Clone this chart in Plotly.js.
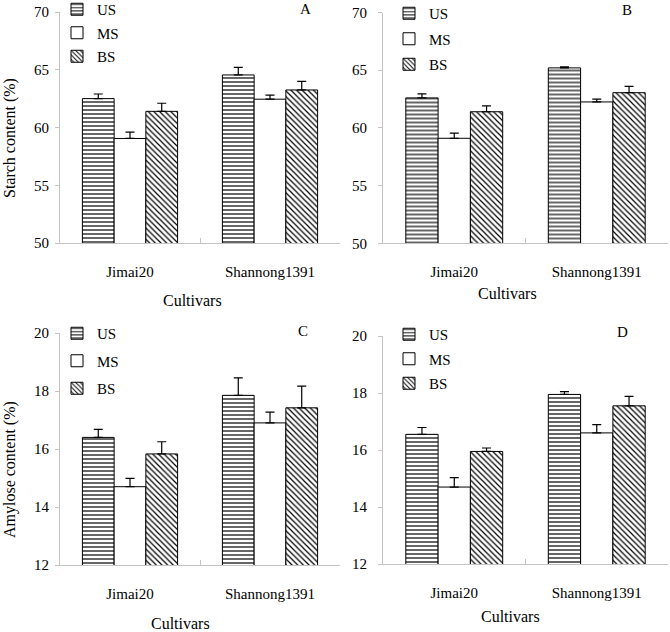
<!DOCTYPE html>
<html><head><meta charset="utf-8">
<script src="https://cdn.plot.ly/plotly-3.0.1.min.js"></script>
<style>body{margin:0;background:#fff}#chart{width:670px;height:632px}</style>
</head><body><div id="chart"></div>
<script>
const cultivars = ['Jimai20', 'Shannong1391'];
const seriesNames = ['US', 'MS', 'BS'];
const panelLetters = ['A', 'B', 'C', 'D'];

// Panel A: starch content (%)
const starchA_US = [62.5, 64.55];
const starchA_MS = [59.05, 62.45];
const starchA_BS = [61.4, 63.25];
const starchA_errUS = [0.4, 0.65];
const starchA_errMS = [0.55, 0.35];
const starchA_errBS = [0.7, 0.75];
// Panel B: starch content (%)
const starchB_US = [62.6, 65.2];
const starchB_MS = [59.1, 62.25];
const starchB_BS = [61.4, 63.05];
const starchB_errUS = [0.35, 0.1];
const starchB_errMS = [0.45, 0.25];
const starchB_errBS = [0.5, 0.55];
// Panel C: amylose content (%)
const amyloseC_US = [16.4, 17.85];
const amyloseC_MS = [14.7, 16.9];
const amyloseC_BS = [15.83, 17.42];
const amyloseC_errUS = [0.28, 0.6];
const amyloseC_errMS = [0.29, 0.37];
const amyloseC_errBS = [0.42, 0.75];
// Panel D: amylose content (%)
const amyloseD_US = [16.55, 17.95];
const amyloseD_MS = [14.7, 16.6];
const amyloseD_BS = [15.95, 17.55];
const amyloseD_errUS = [0.24, 0.1];
const amyloseD_errMS = [0.33, 0.29];
const amyloseD_errBS = [0.12, 0.33];

const W = 670, H = 632;
const FONT = 'Liberation Serif';
const AXC = '#c4c4c4';

const patterns = {
  US: {shape: '-', fgcolor: '#000', bgcolor: '#fff', size: 4, solidity: 0.3},
  MS: {shape: '', bgcolor: '#fff'},
  BS: {shape: '\\', fgcolor: '#000', bgcolor: '#fff', size: 4, solidity: 0.3}
};

const panels = [
  {vals: [starchA_US, starchA_MS, starchA_BS], errs: [starchA_errUS, starchA_errMS, starchA_errBS]},
  {vals: [starchB_US, starchB_MS, starchB_BS], errs: [starchB_errUS, starchB_errMS, starchB_errBS]},
  {vals: [amyloseC_US, amyloseC_MS, amyloseC_BS], errs: [amyloseC_errUS, amyloseC_errMS, amyloseC_errBS]},
  {vals: [amyloseD_US, amyloseD_MS, amyloseD_BS], errs: [amyloseD_errUS, amyloseD_errMS, amyloseD_errBS]}
];

// pixel boxes of each plot area [left, right, top, bottom]
const boxes = [[60, 340, 12, 243], [383, 668, 12.5, 243.3], [60, 340, 333, 565], [383, 668, 336, 564]];
const ranges = [[50, 70], [50, 70], [12, 20], [12, 20]];
const dticks = [5, 5, 2, 2];
// legend placement per panel: [left px, top px, group gap px]
const legendBoxes = [[57, -7, 1], [389, -3, 3], [57, 317, 5], [389, 318, 2]];

const traces = [];
const layout = {
  width: W, height: H,
  margin: {l: 0, r: 0, t: 0, b: 0, autoexpand: false},
  paper_bgcolor: '#fff', plot_bgcolor: '#fff',
  font: {family: FONT, size: 15, color: '#000'},
  barmode: 'group', bargap: 0.32, bargroupgap: 0,
  showlegend: true,
  annotations: [], shapes: []
};

panels.forEach((p, i) => {
  const n = i + 1;
  const sfx = n === 1 ? '' : String(n);
  const legName = 'legend' + sfx;
  seriesNames.forEach((s, k) => {
    traces.push({
      type: 'bar', x: cultivars, y: p.vals[k], name: s,
      xaxis: 'x' + sfx, yaxis: 'y' + sfx,
      legend: legName, legendgroup: 'g' + n + s,
      marker: {color: '#fff', pattern: patterns[s], line: {color: '#000', width: 1}},
      error_y: {type: 'data', array: p.errs[k], symmetric: false, arrayminus: [0, 0],
                color: '#000', thickness: 1.2, width: 4.5},
      hoverinfo: 'skip'
    });
  });
  const b = boxes[i];
  layout['xaxis' + sfx] = {
    domain: [b[0] / W, b[1] / W], anchor: 'y' + sfx,
    showline: true, linecolor: AXC, linewidth: 1,
    ticks: 'inside', tickson: 'boundaries', ticklen: 5, tickcolor: AXC,
    showgrid: false, zeroline: false, fixedrange: true, automargin: false,
    tickfont: {family: FONT, size: 15, color: '#000'},
    ticklabelstandoff: 15
  };
  layout['yaxis' + sfx] = {
    domain: [1 - b[3] / H, 1 - b[2] / H], anchor: 'x' + sfx,
    range: ranges[i], dtick: dticks[i], tick0: ranges[i][0],
    showline: true, linecolor: AXC, linewidth: 1,
    ticks: 'outside', ticklen: 4, tickcolor: AXC,
    showgrid: false, zeroline: false, fixedrange: true, automargin: false,
    tickfont: {family: FONT, size: 15, color: '#000'},
    ticklabelstandoff: i % 2 === 1 ? 8 : 3
  };
  const lb = legendBoxes[i];
  layout[legName] = {
    x: lb[0] / W, y: 1 - lb[1] / H, xanchor: 'left', yanchor: 'top',
    bgcolor: 'rgba(0,0,0,0)', borderwidth: 0,
    font: {family: FONT, size: 15, color: '#000'},
    traceorder: 'grouped', tracegroupgap: lb[2], itemclick: false, itemdoubleclick: false
  };
});

// panel letters
const letterPos = [[305, 9], [627, 10], [303, 331], [622, 332]];
letterPos.forEach((pt, i) => {
  layout.annotations.push({text: panelLetters[i], x: pt[0] / W, y: 1 - pt[1] / H,
    xref: 'paper', yref: 'paper', xanchor: 'center', yanchor: 'middle', showarrow: false,
    font: {family: FONT, size: 15}});
});
// x-axis titles
const cultPos = [[193, 300], [508, 293], [180, 623], [510, 616]];
cultPos.forEach(pt => {
  layout.annotations.push({text: 'Cultivars', x: pt[0] / W, y: 1 - pt[1] / H,
    xref: 'paper', yref: 'paper', xanchor: 'center', yanchor: 'middle', showarrow: false,
    font: {family: FONT, size: 16}});
});
// y-axis titles
layout.annotations.push({text: 'Starch content (%)', x: 10 / W, y: 1 - 138 / H,
  xref: 'paper', yref: 'paper', xanchor: 'center', yanchor: 'middle', showarrow: false,
  textangle: -90, font: {family: FONT, size: 16}});
layout.annotations.push({text: 'Amylose content (%)', x: 10 / W, y: 1 - 470 / H,
  xref: 'paper', yref: 'paper', xanchor: 'center', yanchor: 'middle', showarrow: false,
  textangle: -90, font: {family: FONT, size: 16}});

Plotly.newPlot('chart', traces, layout, {staticPlot: true, displayModeBar: false});
</script>
</body></html>
